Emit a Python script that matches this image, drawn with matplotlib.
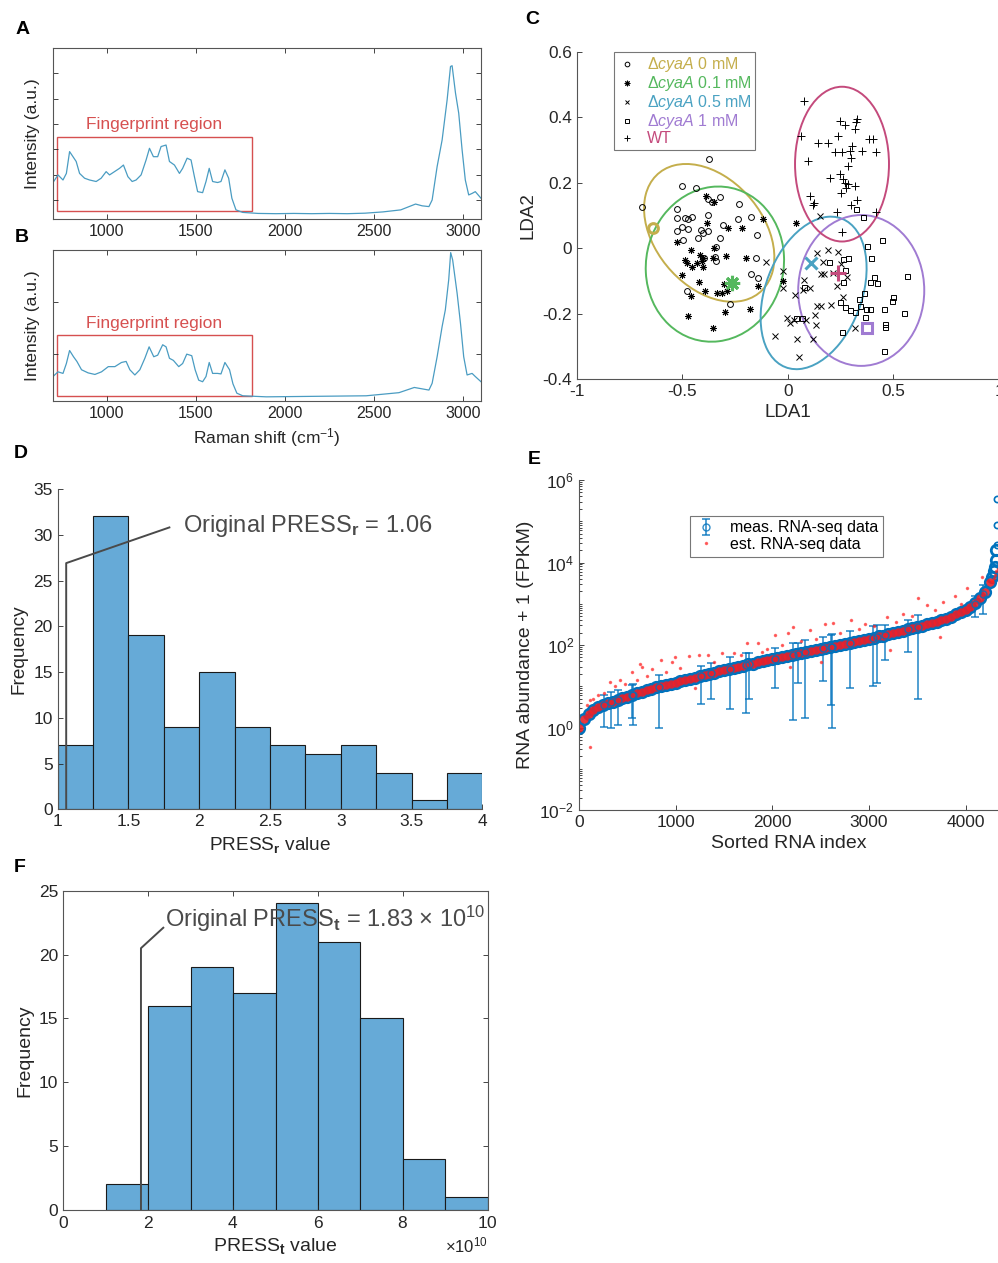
import numpy as np
import matplotlib
matplotlib.use('Agg')
import matplotlib.pyplot as plt
from matplotlib.patches import Ellipse, Rectangle
from matplotlib.ticker import FixedLocator, LogLocator, NullFormatter, ScalarFormatter, FormatStrFormatter

plt.rcParams['font.family'] = ['Liberation Sans', 'DejaVu Sans']
plt.rcParams['mathtext.fontset'] = 'custom'
plt.rcParams['mathtext.rm'] = 'Liberation Sans'
plt.rcParams['mathtext.it'] = 'Liberation Sans:italic'
plt.rcParams['mathtext.bf'] = 'Liberation Sans:bold'
plt.rcParams['axes.unicode_minus'] = False
plt.rcParams['xtick.direction'] = 'in'
plt.rcParams['ytick.direction'] = 'in'

# ---------------- data ----------------
# A: Raman spectrum (cm-1, a.u.)
shift_a = [700, 728, 756, 775, 793, 812, 830, 849, 877, 905, 942, 970, 998, 1017, 1045, 1073,
           1095, 1120, 1144, 1166, 1194, 1222, 1241, 1263, 1287, 1306, 1334, 1353, 1381, 1409,
           1427, 1452, 1474, 1493, 1511, 1539, 1558, 1576, 1595, 1623, 1642, 1664, 1685, 1703,
           1726, 1764, 1850, 1950, 2050, 2150, 2250, 2350, 2450, 2550, 2650, 2733, 2770, 2808,
           2826, 2854, 2882, 2910, 2929, 2938, 2957, 2975, 2994, 3012, 3031, 3050, 3068, 3100]
inten_a = [1.44, 1.74, 1.54, 1.80, 2.66, 2.46, 2.27, 1.80, 1.61, 1.54, 1.48, 1.61, 1.87, 1.74, 1.87, 2.00,
           2.13, 1.67, 1.48, 1.54, 1.74, 2.33, 2.79, 2.46, 2.46, 2.86, 2.92, 2.27, 2.13, 1.80,
           2.00, 2.40, 2.33, 1.67, 1.08, 1.04, 1.48, 2.00, 1.48, 1.44, 1.48, 1.94, 1.61, 0.82,
           0.36, 0.26, 0.22, 0.21, 0.22, 0.21, 0.22, 0.21, 0.23, 0.28, 0.36, 0.59, 0.52, 0.49,
           0.75, 2.07, 3.12, 4.70, 6.02, 6.05, 4.97, 4.18, 2.73, 1.54, 0.95, 1.01, 1.08, 0.82]

# B: Raman spectrum
shift_b = [700, 728, 756, 775, 793, 815, 834, 860, 897, 935, 972, 1010, 1047, 1084, 1110, 1131,
           1159, 1187, 1215, 1239, 1265, 1287, 1315, 1334, 1353, 1375, 1405, 1427, 1450, 1478,
           1497, 1517, 1539, 1558, 1576, 1595, 1623, 1642, 1664, 1690, 1709, 1731, 1764, 1896,
           2456, 2640, 2726, 2808, 2826, 2854, 2882, 2900, 2919, 2930, 2941, 2966, 2985, 3003,
           3022, 3050, 3068, 3100]
inten_b = [0.47, 0.56, 0.53, 0.72, 0.97, 0.85, 0.76, 0.60, 0.54, 0.51, 0.56, 0.66, 0.66, 0.74, 0.76, 0.60,
           0.50, 0.60, 0.82, 1.04, 0.85, 0.88, 1.08, 1.04, 0.82, 0.78, 0.66, 0.72, 0.90, 0.87,
           0.60, 0.40, 0.37, 0.47, 0.74, 0.53, 0.53, 0.52, 0.74, 0.60, 0.33, 0.15, 0.10, 0.08,
           0.10, 0.16, 0.26, 0.21, 0.34, 0.85, 1.43, 1.75, 2.33, 2.85, 2.71, 2.07, 1.49, 0.85,
           0.50, 0.53, 0.47, 0.37]

fp_range = [720, 1816]

# C: LDA scores
c0_x = [-0.374, -0.503, -0.437, -0.692, -0.321, -0.361, -0.380, -0.232, -0.527, -0.527, -0.487, -0.456,
        -0.471, -0.380, -0.235, -0.175, -0.527, -0.500, -0.475, -0.495, -0.413, -0.377, -0.400, -0.427,
        -0.306, -0.321, -0.148, -0.340, -0.345, -0.340, -0.397, -0.153, -0.176, -0.140, -0.479, -0.274]
c0_y = [0.271, 0.190, 0.183, 0.125, 0.157, 0.142, 0.151, 0.134, 0.119, 0.093, 0.093, 0.096,
        0.089, 0.101, 0.089, 0.096, 0.052, 0.064, 0.058, 0.025, 0.055, 0.053, 0.045, 0.030,
        0.071, 0.032, 0.040, 0.002, -0.028, -0.041, -0.031, -0.031, -0.079, -0.092, -0.130, -0.171]
c1_x = [-0.389, -0.348, -0.385, -0.282, -0.217, -0.116, -0.527, -0.460, -0.487, -0.479, -0.456, -0.432,
        -0.408, -0.404, -0.416, -0.400, -0.348, -0.353, -0.293, -0.200, -0.500, -0.421, -0.391, -0.460,
        -0.337, -0.314, -0.287, -0.302, -0.140, -0.180, -0.298, -0.475, -0.356, 0.037, -0.022]
c1_y = [0.160, 0.142, 0.078, 0.062, 0.062, 0.089, 0.020, -0.006, -0.036, -0.046, -0.057, -0.046,
        -0.041, -0.057, -0.021, -0.031, 0.000, -0.029, -0.024, -0.031, -0.082, -0.105, -0.131, -0.145,
        -0.136, -0.136, -0.130, -0.110, -0.116, -0.186, -0.194, -0.206, -0.243, 0.078, -0.100]
c5_x = [0.136, 0.192, 0.236, 0.165, 0.252, -0.104, -0.022, -0.025, 0.078, 0.073, 0.105, 0.157, 0.171,
        0.212, 0.278, 0.231, 0.034, 0.136, 0.157, 0.204, 0.263, -0.006, 0.010, 0.031, 0.086, 0.128,
        0.132, 0.318, -0.061, 0.042, 0.120, 0.053, 0.152]
c5_y = [-0.014, -0.006, -0.013, -0.043, -0.050, -0.044, -0.069, -0.121, -0.098, -0.128, -0.123, -0.080,
        -0.079, -0.077, -0.089, -0.115, -0.143, -0.177, -0.177, -0.174, -0.148, -0.215, -0.228, -0.220,
        -0.220, -0.204, -0.235, -0.245, -0.269, -0.279, -0.279, -0.334, 0.098]
c10_x = [0.447, 0.373, 0.392, 0.286, 0.263, 0.195, 0.270, 0.259, 0.389, 0.408, 0.424, 0.562, 0.362,
         0.338, 0.499, 0.491, 0.247, 0.270, 0.294, 0.318, 0.341, 0.370, 0.389, 0.457, 0.551, 0.365,
         0.460, 0.460, 0.258, 0.457, 0.038, 0.065, 0.078, 0.321, 0.357]
c10_y = [0.025, 0.006, -0.031, -0.029, -0.034, -0.043, -0.067, -0.103, -0.103, -0.089, -0.108, -0.085,
         -0.138, -0.156, -0.150, -0.162, -0.164, -0.179, -0.189, -0.194, -0.177, -0.187, -0.187, -0.187,
         -0.199, -0.210, -0.233, -0.240, -0.255, -0.314, -0.215, -0.215, -0.118, 0.118, 0.094]
wt_x = [0.078, 0.247, 0.270, 0.326, 0.321, 0.318, 0.062, 0.236, 0.144, 0.192, 0.386, 0.405, 0.223,
        0.258, 0.294, 0.302, 0.353, 0.416, 0.299, 0.094, 0.283, 0.247, 0.200, 0.263, 0.270, 0.286,
        0.318, 0.275, 0.250, 0.105, 0.125, 0.117, 0.326, 0.297, 0.231, 0.417, 0.258]
wt_y = [0.449, 0.388, 0.376, 0.393, 0.386, 0.363, 0.343, 0.342, 0.320, 0.320, 0.332, 0.333, 0.295,
        0.295, 0.298, 0.312, 0.298, 0.295, 0.274, 0.266, 0.251, 0.226, 0.213, 0.210, 0.200, 0.196,
        0.190, 0.183, 0.169, 0.159, 0.137, 0.132, 0.147, 0.132, 0.109, 0.109, 0.050]
c_labels = ['Δ$\\it{cyaA}$ 0 mM', 'Δ$\\it{cyaA}$ 0.1 mM', 'Δ$\\it{cyaA}$ 0.5 mM', 'Δ$\\it{cyaA}$ 1 mM', 'WT']
c_centers_x = [-0.640, -0.266, 0.109, 0.373, 0.239]
c_centers_y = [0.062, -0.106, -0.047, -0.245, -0.075]
# ellipse: centre x, centre y, var x, var y, cov xy
c_ellipses = [(-0.3725, 0.0465, 0.0952, 0.0443, -0.023),
              (-0.3455, -0.049, 0.1073, 0.0562, 0.004),
              (0.122, -0.137, 0.0630, 0.0543, 0.019),
              (0.3475, -0.1295, 0.0891, 0.0531, 0.0),
              (0.2565, 0.2565, 0.0495, 0.0559, 0.0)]

# D: PRESS_r histogram
d_edges = [1.0, 1.25, 1.5, 1.75, 2.0, 2.25, 2.5, 2.75, 3.0, 3.25, 3.5, 3.75, 4.0]
d_counts = [7, 32, 19, 9, 15, 9, 7, 6, 7, 4, 1, 4]
d_original = 1.06

# E: RNA abundance (log10 of FPKM + 1)
meas_idx = [0, 50, 100, 150, 200, 250, 300, 350, 400, 450, 500, 550, 600, 650, 700, 750, 800, 850,
            900, 950, 1000, 1050, 1100, 1150, 1200, 1250, 1300, 1350, 1400, 1450, 1500, 1550, 1600,
            1650, 1700, 1750, 1800, 1850, 1900, 1950, 2000, 2050, 2100, 2150, 2200, 2250, 2300, 2350,
            2400, 2450, 2500, 2550, 2600, 2650, 2700, 2750, 2800, 2850, 2900, 2950, 3000, 3050, 3100,
            3150, 3200, 3250, 3300, 3350, 3400, 3450, 3500, 3550, 3600, 3650, 3700, 3750, 3800, 3850,
            3900, 3950, 4000, 4050, 4100, 4150, 4200, 4250, 4270, 4290, 4300, 4310, 4318]
meas_log = [0.00, 0.20, 0.33, 0.42, 0.49, 0.54, 0.59, 0.63, 0.67, 0.71, 0.75, 0.79, 0.83, 0.87, 0.91,
            0.94, 0.97, 1.00, 1.03, 1.06, 1.09, 1.12, 1.15, 1.18, 1.21, 1.24, 1.27, 1.30, 1.33, 1.36,
            1.39, 1.42, 1.45, 1.47, 1.50, 1.53, 1.55, 1.58, 1.61, 1.63, 1.66, 1.68, 1.70, 1.73, 1.75,
            1.78, 1.81, 1.83, 1.86, 1.88, 1.91, 1.93, 1.96, 1.98, 2.00, 2.03, 2.05, 2.08, 2.10, 2.13,
            2.15, 2.18, 2.21, 2.23, 2.26, 2.29, 2.32, 2.35, 2.38, 2.41, 2.44, 2.47, 2.50, 2.53, 2.56,
            2.60, 2.64, 2.69, 2.75, 2.80, 2.86, 2.93, 3.01, 3.13, 3.29, 3.53, 3.65, 3.80, 3.90, 4.05,
            4.30]
# the few highest measured values at the right end
top_idx = [4322, 4322, 4322]
top_log = [4.42, 4.90, 5.55]
err_idx = [262, 331, 407, 552, 555, 831, 1259, 1366, 1562, 1728, 1762, 2028, 2210, 2268, 2338, 2527,
           2607, 2614, 2803, 3045, 3082, 3165, 3400, 3505, 4094, 4182]
err_mid = [0.55, 0.61, 0.67, 0.79, 0.79, 0.99, 1.24, 1.31, 1.43, 1.52, 1.53, 1.67, 1.76, 1.79, 1.82,
           1.92, 1.96, 1.96, 2.05, 2.17, 2.19, 2.24, 2.38, 2.44, 3.00, 3.23]
err_low = [0.02, 0.00, 0.05, 0.22, 0.06, 0.00, 0.56, 0.70, 0.44, 0.34, 0.70, 0.95, 0.18, 1.07, 0.24,
           1.13, 0.54, 0.00, 0.95, 1.00, 1.07, 1.63, 1.83, 0.70, 2.68, 2.75]
est_idx = [80, 114, 150, 200, 262, 320, 372, 424, 480, 552, 600, 631, 648, 700, 758, 848, 900, 958,
           993, 1050, 1141, 1200, 1241, 1331, 1400, 1475, 1607, 1680, 1734, 1848, 1889, 1950, 2027,
           2100, 2165, 2182, 2216, 2300, 2389, 2450, 2500, 2544, 2630, 2700, 2813, 2900, 2958, 3050,
           3182, 3216, 3280, 3354, 3450, 3510, 3596, 3680, 3733, 3768, 3889, 3950, 4016, 4174, 114,
           4270, 4290, 4305, 4318, 4330]
est_log = [0.55, 0.66, 0.70, 0.80, 0.84, 1.11, 1.00, 1.16, 1.05, 1.35, 1.15, 1.53, 1.47, 1.25, 1.41,
           1.63, 1.35, 1.59, 1.71, 1.45, 1.73, 0.95, 1.75, 1.75, 1.60, 1.81, 1.81, 1.75, 2.05, 2.04,
           1.83, 1.90, 2.24, 2.00, 2.28, 1.47, 2.44, 2.10, 2.36, 2.15, 1.60, 2.50, 2.53, 2.30, 2.61,
           2.40, 2.50, 2.45, 2.68, 1.87, 2.55, 2.76, 2.70, 3.13, 2.97, 2.85, 2.20, 3.04, 3.20, 3.00,
           3.39, 3.65, -0.47, 3.55, 3.63, 3.70, 3.80, 3.85]

# F: PRESS_t histogram
f_edges = [1e10, 2e10, 3e10, 4e10, 5e10, 6e10, 7e10, 8e10, 9e10, 10e10]
f_counts = [2, 16, 19, 17, 24, 21, 15, 4, 1]
f_original = 1.83e10

# ---------------- figure ----------------
W, H = 998, 1263
fig = plt.figure(figsize=(W / 100, H / 100), dpi=100)
dark = '#262626'
red = '#d65050'
spec = '#4a9cc2'
hist_face = '#66aad7'
note = '#4a4a4a'


class TenFormatter(ScalarFormatter):
    def _set_order_of_magnitude(self):
        self.orderOfMagnitude = 10


def px_axes(left, top, right, bottom):
    return fig.add_axes([left / W, 1 - bottom / H, (right - left) / W, (bottom - top) / H])


def style(ax, box, tsize):
    for s in ax.spines.values():
        s.set_color('#555555')
        s.set_linewidth(0.8)
    if not box:
        ax.spines['top'].set_visible(False)
        ax.spines['right'].set_visible(False)
    ax.tick_params(which='both', colors=dark, labelsize=tsize, top=box, right=box,
                   length=3.5, width=0.6)
    ax.tick_params(which='minor', length=2)


def letter(x, y, s):
    fig.text(x / W, 1 - y / H, s, fontsize=14, fontweight='bold', ha='center', va='center')


# A
ax = px_axes(53, 48, 481, 219)
ax.plot(shift_a, inten_a, color=spec, lw=0.9)
ax.add_patch(Rectangle((fp_range[0], 0.32), fp_range[1] - fp_range[0], 2.91, fill=False, ec=red, lw=1.0))
ax.text(np.mean(fp_range), 3.72, 'Fingerprint region', color=red, fontsize=12.5, ha='center', va='center')
ax.set_xlim(700, 3100)
ax.set_ylim(0, 6.75)
ax.set_xticks([1000, 1500, 2000, 2500, 3000])
ax.set_yticks([0.75, 1.75, 2.75, 3.75, 4.75, 5.75])
ax.set_yticklabels([])
ax.set_ylabel('Intensity (a.u.)', fontsize=12.5, color=dark, labelpad=6)
style(ax, True, 11.5)

# B
ax = px_axes(53, 250, 481, 401)
ax.plot(shift_b, inten_b, color=spec, lw=0.9)
ax.add_patch(Rectangle((fp_range[0], 0.10), fp_range[1] - fp_range[0], 1.16, fill=False, ec=red, lw=1.0))
ax.text(np.mean(fp_range), 1.49, 'Fingerprint region', color=red, fontsize=12.5, ha='center', va='center')
ax.set_xlim(700, 3100)
ax.set_ylim(0, 2.9)
ax.set_xticks([1000, 1500, 2000, 2500, 3000])
ax.set_yticks([0.9, 1.9, 2.9])
ax.set_yticklabels([])
ax.set_ylabel('Intensity (a.u.)', fontsize=12.5, color=dark, labelpad=6)
ax.set_xlabel('Raman shift (cm$^{-1}$)', fontsize=12.5, color=dark, labelpad=4)
style(ax, True, 11.5)

# C
ax = px_axes(576.7, 51.7, 999, 379)
c_cols = ['#c4ae4c', '#55b85e', '#4aa2c2', '#a07bd2', '#c44a7c']
c_marks = ['o', (8, 2, 0), 'x', 's', '+']
c_ms = [4.2, 5, 3.8, 3.6, 6]
c_data = [(c0_x, c0_y), (c1_x, c1_y), (c5_x, c5_y), (c10_x, c10_y), (wt_x, wt_y)]
for (xs, ys), m, ms, lab in zip(c_data, c_marks, c_ms, c_labels):
    ax.plot(xs, ys, ls='none', marker=m, ms=ms, mfc='none', mec='k', mew=0.7, label=lab)
for (cx, cy, sxx, syy, sxy), col in zip(c_ellipses, c_cols):
    vals, vecs = np.linalg.eigh([[sxx, sxy], [sxy, syy]])
    ang = np.degrees(np.arctan2(vecs[1, 1], vecs[0, 1]))
    ax.add_patch(Ellipse((cx, cy), 2 * np.sqrt(vals[1]), 2 * np.sqrt(vals[0]), angle=ang,
                         fill=False, ec=col, lw=1.4))
big_ms = [7, 11, 8, 7, 11]
for cx, cy, m, ms, col in zip(c_centers_x, c_centers_y, c_marks, big_ms, c_cols):
    ax.plot(cx, cy, ls='none', marker=m, ms=ms, mfc='none', mec=col, mew=2.2)
ax.set_xlim(-1, 1)
ax.set_ylim(-0.4, 0.6)
ax.set_xticks([-1, -0.5, 0, 0.5, 1])
ax.set_yticks([-0.4, -0.2, 0, 0.2, 0.4, 0.6])
ax.xaxis.set_major_formatter(FormatStrFormatter('%g'))
ax.yaxis.set_major_formatter(FormatStrFormatter('%g'))
ax.set_xlabel('LDA1', fontsize=13.5, color=dark)
ax.set_ylabel('LDA2', fontsize=13.5, color=dark)
style(ax, False, 12.4)
leg = ax.legend(loc='upper left', bbox_to_anchor=(0.089, 1.0), borderaxespad=0, fontsize=11.5,
                frameon=True, fancybox=False, edgecolor='#555555', handlelength=1.2,
                handletextpad=0.6, borderpad=0.22, labelspacing=0.0, markerscale=0.8)
leg.get_frame().set_linewidth(0.8)
for t, col in zip(leg.get_texts(), c_cols):
    t.set_color(col)

# D
ax = px_axes(57.7, 489, 482.3, 809.3)
ax.hist(d_edges[:-1], bins=d_edges, weights=d_counts, color=hist_face, ec='#1a1a1a', lw=0.8)
ax.plot([d_original, d_original, 1.789], [0, 26.9, 30.8], color=note, lw=1.4)
ax.text(1.883, 30.96, 'Original PRESS$_\\mathbf{r}$ = %.2f' % d_original, fontsize=17, color=note,
        va='center', ha='left')
ax.set_xlim(1, 4)
ax.set_ylim(0, 35)
ax.set_xticks([1, 1.5, 2, 2.5, 3, 3.5, 4])
ax.xaxis.set_major_formatter(FormatStrFormatter('%g'))
ax.set_yticks(range(0, 36, 5))
ax.set_xlabel('PRESS$_\\mathbf{r}$ value', fontsize=13.7, color=dark)
ax.set_ylabel('Frequency', fontsize=13.7, color=dark)
style(ax, False, 12.5)

# E
ax = px_axes(579, 480, 998, 810)
blue = '#0072bd'
ax.plot(meas_idx, np.power(10.0, meas_log), ls='none', marker='o', ms=7.5, mfc='none', mec=blue, mew=2.0)
ax.plot(top_idx, np.power(10.0, top_log), ls='none', marker='o', ms=4.5, mfc='none', mec=blue, mew=1.2)
mid = np.power(10.0, err_mid)
low = np.power(10.0, err_low)
h_meas = ax.errorbar(err_idx, mid, yerr=mid - low, fmt='o', ms=5, mfc='none', mec=blue, color=blue,
                     ecolor=blue, elinewidth=1.2, capsize=3, capthick=1.2, alpha=0.8,
                     label='meas. RNA-seq data')
band = [i for i, k in enumerate(meas_idx) if k <= 4250]
ax.plot([meas_idx[i] for i in band], [10 ** meas_log[i] for i in band], ls='none', marker='o',
        ms=6, color='#e8202a', mec='none', alpha=0.9)
h_est, = ax.plot(est_idx, np.power(10.0, est_log), ls='none', marker='.', ms=3, color='#ff2020',
                 alpha=0.6, label='est. RNA-seq data')
ax.set_yscale('log')
ax.set_xlim(0, 4335)
ax.set_ylim(1e-2, 1e6)
ax.set_xticks([0, 1000, 2000, 3000, 4000])
ax.yaxis.set_major_locator(FixedLocator([1e-2, 1e0, 1e2, 1e4, 1e6]))
ax.yaxis.set_minor_locator(LogLocator(base=10, subs=np.arange(1, 10), numticks=30))
ax.yaxis.set_minor_formatter(NullFormatter())
ax.set_xlabel('Sorted RNA index', fontsize=14, color=dark)
ax.set_ylabel('RNA abundance + 1 (FPKM)', fontsize=14, color=dark)
style(ax, False, 12.5)
leg = ax.legend(handles=[h_meas, h_est], loc='upper left', bbox_to_anchor=(0.2656, 0.892),
                borderaxespad=0, fontsize=11.5, frameon=True, fancybox=False, edgecolor='#555555',
                handlelength=1.4, handletextpad=0.8, borderpad=0.3, labelspacing=0.1)
leg.get_frame().set_linewidth(0.8)

# F
ax = px_axes(63.3, 890.7, 487.7, 1210)
ax.hist(f_edges[:-1], bins=f_edges, weights=f_counts, color=hist_face, ec='#1a1a1a', lw=0.8)
ax.plot([f_original, f_original, 2.356e10], [0, 20.5, 22.1], color=note, lw=1.4)
ax.text(2.40e10, 22.76, 'Original PRESS$_\\mathbf{t}$ = %.2f × 10$^{10}$' % (f_original / 1e10),
        fontsize=17, color=note, va='center', ha='left')
ax.set_xlim(0, 10e10)
ax.set_ylim(0, 25)
ax.set_xticks(np.arange(0, 11e10, 2e10))
ax.xaxis.set_major_formatter(TenFormatter(useMathText=True))
ax.xaxis.get_offset_text().set_fontsize(12)
ax.xaxis.get_offset_text().set_color(dark)
ax.set_yticks(range(0, 26, 5))
ax.set_xlabel('PRESS$_\\mathbf{t}$ value', fontsize=14, color=dark)
ax.set_ylabel('Frequency', fontsize=14, color=dark)
style(ax, True, 12.5)

letter(23, 29, 'A')
letter(22, 238, 'B')
letter(532, 19, 'C')
letter(21, 453, 'D')
letter(534, 460, 'E')
letter(20, 867, 'F')

fig.savefig('out.png', dpi=100)
